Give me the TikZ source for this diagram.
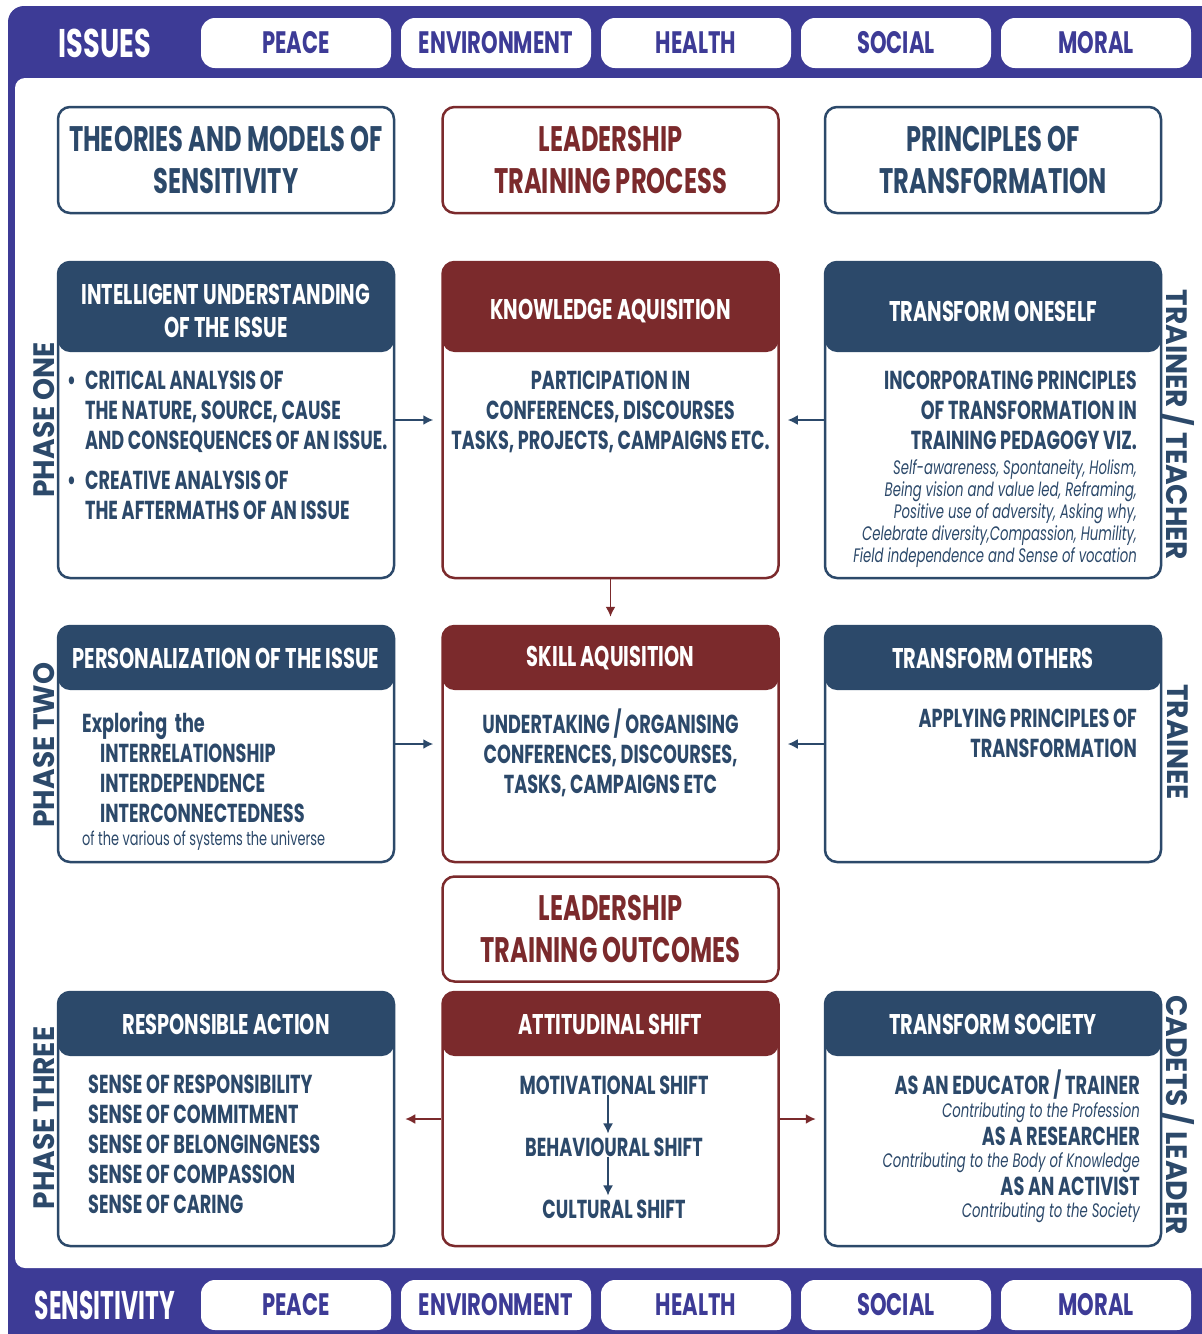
\documentclass[tikz,border=0pt]{standalone}
\usepackage{fontspec}
\setmainfont{Poppins}[FakeStretch=0.68]
\newfontfamily\sidefont{Poppins}[FakeStretch=0.95]
\usetikzlibrary{positioning}
\usetikzlibrary{calc}
\usetikzlibrary{arrows.meta}

\definecolor{framecol}{RGB}{61,59,150}
\definecolor{navy}{RGB}{44,73,106}
\definecolor{wine}{RGB}{123,42,44}
\newcommand{\fsz}[2]{\fontsize{#1}{#2}\selectfont}

\begin{document}
\begin{tikzpicture}[x=1pt, y=-1pt,
    pill/.style={fill=white, rounded corners=14pt, minimum width=190pt, minimum height=50pt, text=framecol, font=\bfseries\fsz{31}{34}},
    bartxt/.style={text=white, font=\bfseries\fsz{40}{40}},
    title/.style={draw=#1, line width=2.5pt, rounded corners=12pt, fill=white, minimum width=336pt, minimum height=106pt, text=#1, align=center, font=\bfseries\fsz{35.5}{42}},
    panel/.style n args={3}{draw=#1, line width=2.5pt, rounded corners=12pt, fill=white, minimum width=336pt, minimum height=#3,
      path picture={\fill[#1] (path picture bounding box.north west) rectangle ([yshift=-#2]path picture bounding box.north east);}},
    headtxt/.style={text=white, align=center, font=\bfseries\fsz{28.5}{33}},
    bodytxt/.style={text=navy, inner sep=0pt, font=\bfseries\fsz{26}{30}},
    smalltxt/.style={text=navy, inner sep=0pt, font=\itshape\fsz{19.5}{22}},
    sidetxt/.style={text=navy, font=\sidefont\bfseries\fsz{29.5}{29.5}},
    navarr/.style={draw=navy, line width=1.8pt, -{Latex[length=10pt,width=10pt]}},
    redarr/.style={draw=wine, line width=1.8pt, -{Latex[length=10pt,width=10pt]}}]
  \useasboundingbox (0,0) rectangle (1202,1334);

  % Frame round the whole chart
  \fill[framecol, rounded corners=16pt] (8,6) rectangle (1230,1350);
  \fill[white, rounded corners=10pt] (15,78) rectangle (1240,1268);

  % Issues and sensitivity bars
  \node[bartxt] (issues) at (105,43) {ISSUES};
  \node[bartxt] (sensitivity) at (105,1305) {\scalebox{0.86}[1]{SENSITIVITY}};
  \foreach \lbl [count=\i] in {PEACE,ENVIRONMENT,HEALTH,SOCIAL,MORAL}
  {
    \node[pill] (top\i) at ({96+200*\i},43) {\lbl};
    \node[pill] (bot\i) at ({96+200*\i},1305) {\lbl};
  }

  % Titles
  \node[title=navy] (theories) at (226,160) {THEORIES AND MODELS OF\\SENSITIVITY};
  \node[title=wine] (process) at (610.5,160) {LEADERSHIP\\TRAINING PROCESS};
  \node[title=navy] (principles) at (993,160) {PRINCIPLES OF\\TRANSFORMATION};

  % Phase one
  \node[panel={navy}{90pt}{316pt}] (und) at (226,420) {};
  \node[panel={wine}{90pt}{316pt}] (kno) at (610.5,420) {};
  \node[panel={navy}{90pt}{316pt}] (one) at (993,420) {};
  \node[headtxt] (undh) at (226,311) {INTELLIGENT UNDERSTANDING\\OF THE ISSUE};
  \node[headtxt] (knoh) at (610.5,311) {KNOWLEDGE AQUISITION};
  \node[headtxt] (oneh) at (993,311) {TRANSFORM ONESELF};
  \node[bodytxt, align=left, anchor=north west] (undb) at (67,371)
    {\textbullet\hspace{9pt}CRITICAL ANALYSIS OF\\\hphantom{\textbullet}\hspace{9pt}THE NATURE, SOURCE, CAUSE\\\hphantom{\textbullet}\hspace{9pt}AND CONSEQUENCES OF AN ISSUE.\\[10pt]
     \textbullet\hspace{9pt}CREATIVE ANALYSIS OF\\\hphantom{\textbullet}\hspace{9pt}THE AFTERMATHS OF AN ISSUE};
  \node[bodytxt, align=center, anchor=north] (knob) at (610.5,371)
    {PARTICIPATION IN\\CONFERENCES, DISCOURSES\\TASKS, PROJECTS, CAMPAIGNS ETC.};
  \node[bodytxt, align=right, anchor=north east] (oneb) at (1137,371)
    {INCORPORATING PRINCIPLES\\OF TRANSFORMATION IN\\TRAINING PEDAGOGY VIZ.};
  \node[smalltxt, align=right, anchor=north east] (onei) at ([yshift=-9pt]oneb.south east)
    {Self-awareness, Spontaneity, Holism,\\Being vision and value led, Reframing,\\Positive use of adversity, Asking why,\\Celebrate diversity,Compassion, Humility,\\Field independence and Sense of vocation};

  % Phase two
  \node[panel={navy}{64pt}{236pt}] (per) at (226,744) {};
  \node[panel={wine}{64pt}{236pt}] (skl) at (610.5,744) {};
  \node[panel={navy}{64pt}{236pt}] (oth) at (993,744) {};
  \node[headtxt] (perh) at (226,658) {PERSONALIZATION OF THE ISSUE};
  \node[headtxt] (sklh) at (610.5,658) {SKILL AQUISITION};
  \node[headtxt] (othh) at (993,658) {TRANSFORM OTHERS};
  \node[bodytxt, align=left, anchor=north west] (perb) at (82,711)
    {Exploring\ \ the\\\hspace{18pt}INTERRELATIONSHIP\\\hspace{18pt}INTERDEPENDENCE\\\hspace{18pt}INTERCONNECTEDNESS};
  \node[text=navy, inner sep=0pt, font=\fsz{19}{20}, anchor=north west] (perc) at ([yshift=-8pt]perb.south west)
    {of the various of systems the universe};
  \node[bodytxt, align=center, anchor=north] (sklb) at (610.5,709)
    {UNDERTAKING / ORGANISING\\CONFERENCES, DISCOURSES,\\TASKS, CAMPAIGNS ETC};
  \node[bodytxt, align=right, anchor=north east] (othb) at (1137,709)
    {APPLYING PRINCIPLES OF\\TRANSFORMATION};

  % Outcomes
  \node[title=wine, minimum height=105pt] (outcomes) at (610.5,929) {LEADERSHIP\\TRAINING OUTCOMES};

  % Phase three
  \node[panel={navy}{64pt}{254pt}] (res) at (226,1119) {};
  \node[panel={wine}{64pt}{254pt}] (att) at (610.5,1119) {};
  \node[panel={navy}{64pt}{254pt}] (soc) at (993,1119) {};
  \node[headtxt] (resh) at (226,1024) {RESPONSIBLE ACTION};
  \node[headtxt] (atth) at (610.5,1024) {ATTITUDINAL SHIFT};
  \node[headtxt] (soch) at (993,1024) {TRANSFORM SOCIETY};
  \node[bodytxt, align=left, anchor=north west] (resb) at (88,1075)
    {SENSE OF RESPONSIBILITY\\SENSE OF COMMITMENT\\SENSE OF BELONGINGNESS\\SENSE OF COMPASSION\\SENSE OF CARING};
  \node[bodytxt] (mot) at (614,1085) {MOTIVATIONAL SHIFT};
  \node[bodytxt] (beh) at (614,1147) {BEHAVIOURAL SHIFT};
  \node[bodytxt] (cul) at (614,1209) {CULTURAL SHIFT};
  \draw[navarr, line width=1.5pt] ([xshift=-6pt]mot.south) -- ([xshift=-6pt, yshift=4pt]beh.north);
  \draw[navarr, line width=1.5pt] ([xshift=-6pt]beh.south) -- ([xshift=-6pt, yshift=4pt]cul.north);
  \foreach \y/\txt/\sty in {1085/{AS AN EDUCATOR / TRAINER}/bodytxt, 1113/{Contributing to the Profession}/smalltxt,
                            1136/{AS A RESEARCHER}/bodytxt, 1163/{Contributing to the Body of Knowledge}/smalltxt,
                            1186/{AS AN ACTIVIST}/bodytxt, 1213/{Contributing to the Society}/smalltxt}
  {
    \node[\sty, anchor=east] (soc\y) at (1140,\y) {\txt};
  }

  % Side labels
  \node[sidetxt, rotate=90] (ph1) at (44,420) {PHASE ONE};
  \node[sidetxt, rotate=90] (ph2) at (44,745) {PHASE TWO};
  \node[sidetxt, rotate=90] (ph3) at (44,1118) {PHASE THREE};
  \node[sidetxt, rotate=-90] (trainer) at (1178,425) {TRAINER / TEACHER};
  \node[sidetxt, rotate=-90] (trainee) at (1178,742) {TRAINEE};
  \node[sidetxt, rotate=-90] (cadets) at (1178,1115) {CADETS / LEADER};

  % Connectors
  \draw[navarr, shorten >=8pt] (und.east) -- (kno.west);
  \draw[navarr, shorten >=8pt] (one.west) -- (kno.east);
  \draw[redarr, shorten >=8pt] (kno.south) -- (skl.north);
  \draw[navarr, shorten >=8pt] (per.east) -- (skl.west);
  \draw[navarr, shorten >=8pt] (oth.west) -- (skl.east);
  \draw[redarr, shorten >=10pt] (att.west) -- (res.east);
  \draw[redarr, shorten >=8pt] (att.east) -- (soc.west);
\end{tikzpicture}
\end{document}
